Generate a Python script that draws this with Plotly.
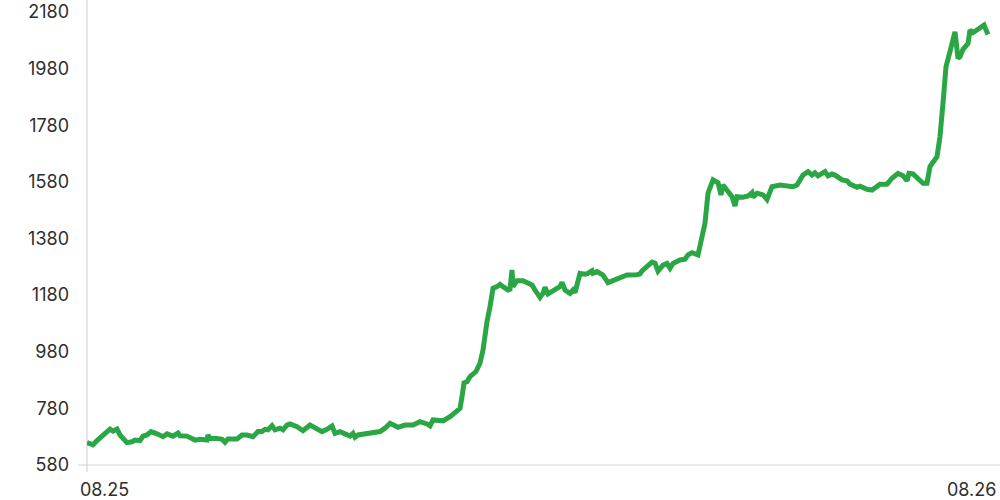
import plotly.graph_objects as go

# Position along the day (0 = 08.25 start, 901 = 08.26) and observed values
steps = [0, 6, 10, 16, 23, 26, 30, 33, 40, 45, 48, 53, 56, 60, 64, 70, 76, 80, 86, 91, 93, 100,
         108, 113, 120, 121, 123, 130, 135, 138, 141, 150, 155, 160, 166, 171, 175, 178, 181, 185,
         188, 193, 196, 200, 203, 210, 216, 223, 230, 235, 240, 245, 248, 253, 258, 263, 266, 268,
         271, 280, 286, 293, 298, 303, 311, 318, 326, 333, 340, 343, 346, 350, 356, 363, 373,
         375, 377, 380, 383, 389, 393, 396, 398, 400, 403, 406, 410, 413, 416, 421, 423, 425, 426,
         430, 436, 440, 445, 448, 453, 456, 458, 461, 468, 473, 475, 478, 483, 486, 488, 493, 498,
         501, 505, 506, 510, 516, 521, 526, 533, 540, 550, 553, 555, 558, 565, 568, 571, 576, 580,
         583, 586, 593, 598, 601, 605, 611, 615, 618, 621, 626, 631, 634, 636, 641, 645, 648, 650,
         656, 661, 665, 666, 670, 676, 680, 685, 693, 706, 710, 716, 721, 725, 728, 731, 738, 741,
         745, 748, 755, 760, 763, 770, 773, 780, 785, 790, 793, 800, 805, 811, 816, 820, 822, 826,
         831, 836, 840, 843, 850, 853, 856, 859, 863, 868, 871, 873, 876, 881, 883, 886, 891, 897,
         901]
values = [659, 651, 666, 686, 707, 700, 707, 686, 659, 662, 668, 666, 682, 686, 698, 690, 680, 690,
          682, 693, 683, 682, 668, 671, 668, 686, 674, 674, 671, 660, 672, 672, 686, 686, 680, 698,
          698, 706, 704, 719, 704, 710, 704, 721, 725, 715, 701, 721, 706, 698, 706, 718, 692, 698,
          690, 682, 692, 678, 686, 690, 694, 698, 710, 727, 713, 721, 721, 733, 725, 718, 739, 736,
          736, 751, 780, 821, 870, 874, 892, 910, 940, 986, 1057, 1086, 1139, 1204, 1210, 1218, 1210,
          1198, 1201, 1269, 1210, 1231, 1231, 1222, 1216, 1198, 1172, 1186, 1208, 1184, 1198, 1210,
          1225, 1198, 1186, 1198, 1189, 1257, 1254, 1257, 1266, 1257, 1263, 1251, 1224, 1231, 1239,
          1251, 1252, 1255, 1266, 1276, 1297, 1293, 1265, 1286, 1292, 1275, 1292, 1304, 1307, 1322,
          1330, 1322, 1386, 1434, 1540, 1587, 1577, 1534, 1569, 1545, 1528, 1495, 1528, 1526, 1530,
          1542, 1526, 1540, 1534, 1518, 1563, 1569, 1563, 1569, 1604, 1616, 1604, 1612, 1601, 1616,
          1601, 1608, 1604, 1587, 1584, 1572, 1561, 1565, 1554, 1551, 1563, 1572, 1572, 1593, 1610,
          1602, 1584, 1610, 1608, 1589, 1575, 1575, 1634, 1669, 1740, 1858, 1987, 2040, 2110, 2016,
          2022, 2048, 2069, 2116, 2107, 2119, 2134, 2100]

y_ticks = [580, 780, 980, 1180, 1380, 1580, 1780, 1980, 2180]
x_labels = ["08.25", "08.26"]

FONT = "Inter, Lato, sans-serif"
TEXT = "#2e2e2e"
AXIS = "#d4d4d4"

fig = go.Figure()
fig.add_trace(go.Scatter(
    x=steps, y=values, mode="lines",
    line=dict(color="#2ba644", width=5, shape="linear"),
    hoverinfo="y", showlegend=False,
))

fig.update_layout(
    width=1000, height=500,
    margin=dict(l=87, r=10, t=12, b=35, autoexpand=False),
    paper_bgcolor="white", plot_bgcolor="white",
    font=dict(family=FONT, size=18, color=TEXT),
    xaxis=dict(range=[0, 903], showgrid=False, zeroline=False, showline=False,
               showticklabels=False, ticks="", automargin=False),
    yaxis=dict(range=[580, 2180], tickvals=y_ticks, ticktext=[str(v) for v in y_ticks],
               showgrid=False, zeroline=False, showline=False, ticks="", automargin=False,
               ticklabelstandoff=17, tickfont=dict(family=FONT, size=18, color=TEXT)),
    shapes=[
        dict(type="line", xref="paper", yref="paper",
             x0=-9 / 903, x1=913 / 903, y0=0, y1=0,
             line=dict(color=AXIS, width=1.2), layer="below"),
        dict(type="line", xref="paper", yref="paper",
             x0=0, x1=0, y0=-7 / 453, y1=1 + 12 / 453,
             line=dict(color=AXIS, width=1.2), layer="below"),
    ],
    annotations=[
        dict(text=x_labels[0], xref="paper", yref="paper", x=-9 / 903, y=-24 / 453,
             xanchor="left", yanchor="middle", showarrow=False,
             font=dict(family=FONT, size=18, color=TEXT)),
        dict(text=x_labels[1], xref="paper", yref="paper", x=911 / 903, y=-24 / 453,
             xanchor="right", yanchor="middle", showarrow=False,
             font=dict(family=FONT, size=18, color=TEXT)),
    ],
)

fig.write_html(
    "out.html",
    config={"displayModeBar": False},
    post_script="document.body.style.margin='0';document.body.style.overflow='hidden';",
)
